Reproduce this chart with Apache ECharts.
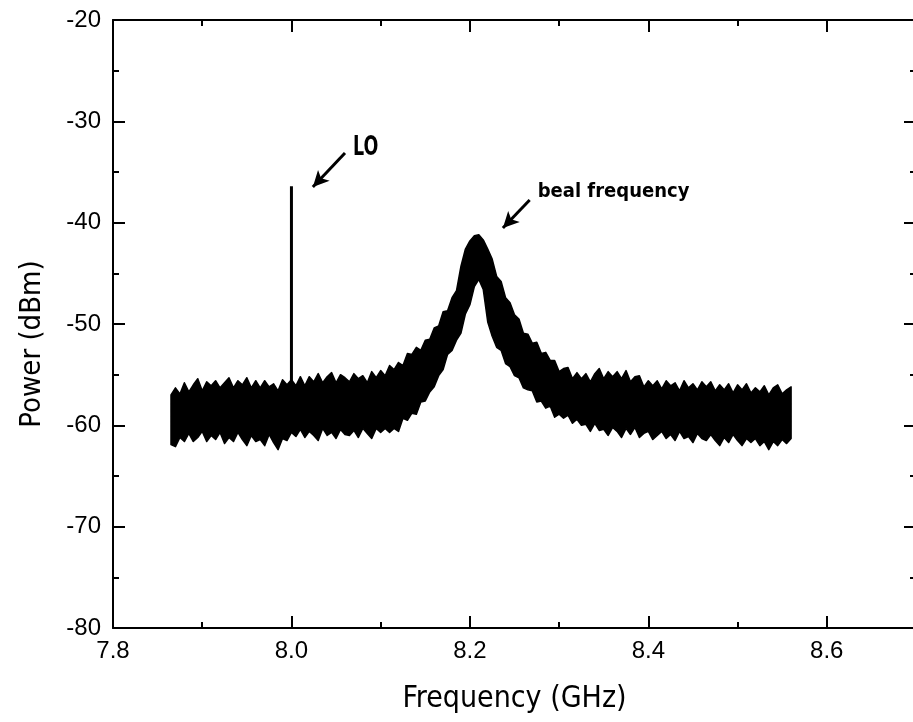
<!DOCTYPE html>
<html>
<head>
<meta charset="utf-8">
<script src="https://cdn.jsdelivr.net/npm/echarts@6/dist/echarts.min.js"></script>
<style>
html,body{margin:0;padding:0;background:#fff;}
#chart{width:913px;height:722px;}
</style>
</head>
<body>
<div id="chart"></div>
<script>
// Frequency samples (GHz)
const freq = [
7.865,7.870,7.875,7.880,7.885,7.890,7.895,7.900,7.905,7.910,
7.915,7.920,7.925,7.930,7.935,7.940,7.945,7.950,7.955,7.960,
7.965,7.970,7.975,7.980,7.985,7.990,7.995,8.000,8.005,8.010,
8.015,8.020,8.025,8.030,8.035,8.040,8.045,8.050,8.055,8.060,
8.065,8.070,8.075,8.080,8.085,8.090,8.095,8.100,8.105,8.110,
8.115,8.120,8.125,8.130,8.135,8.140,8.145,8.150,8.155,8.160,
8.165,8.170,8.175,8.180,8.185,8.190,8.195,8.200,8.205,8.210,
8.215,8.220,8.225,8.230,8.235,8.240,8.245,8.250,8.255,8.260,
8.265,8.270,8.275,8.280,8.285,8.290,8.295,8.300,8.305,8.310,
8.315,8.320,8.325,8.330,8.335,8.340,8.345,8.350,8.355,8.360,
8.365,8.370,8.375,8.380,8.385,8.390,8.395,8.400,8.405,8.410,
8.415,8.420,8.425,8.430,8.435,8.440,8.445,8.450,8.455,8.460,
8.465,8.470,8.475,8.480,8.485,8.490,8.495,8.500,8.505,8.510,
8.515,8.520,8.525,8.530,8.535,8.540,8.545,8.550,8.555,8.560
];
// Upper envelope of the noisy trace (dBm)
const upper = [
-57.0,-56.3,-56.9,-55.8,-56.7,-56.0,-55.4,-56.6,-55.7,-56.1,
-55.6,-56.3,-55.8,-55.3,-56.3,-55.6,-56.0,-55.3,-56.3,-55.6,
-56.3,-55.6,-56.2,-55.9,-56.6,-55.5,-56.0,-55.5,-56.1,-55.2,
-56.1,-55.2,-55.7,-54.9,-55.8,-55.2,-54.8,-55.8,-55.0,-55.3,
-55.7,-54.9,-55.4,-55.1,-55.8,-54.7,-55.3,-54.6,-55.1,-54.1,
-54.5,-53.8,-54.1,-52.9,-53.0,-52.3,-52.6,-51.6,-51.5,-50.4,
-50.2,-48.8,-48.7,-47.4,-46.7,-44.3,-42.6,-41.8,-41.3,-41.2,
-41.7,-42.6,-43.6,-45.3,-45.8,-47.4,-47.9,-49.1,-49.5,-50.9,
-51.0,-51.9,-51.8,-52.9,-52.8,-53.6,-53.6,-54.7,-54.4,-54.3,
-55.4,-54.8,-55.4,-54.9,-55.7,-54.9,-54.4,-55.4,-54.7,-55.2,
-54.7,-55.4,-54.6,-55.7,-55.2,-55.1,-56.2,-55.6,-56.1,-55.6,
-56.4,-55.6,-56.1,-55.8,-56.6,-55.6,-56.3,-55.9,-56.5,-55.7,
-56.2,-55.7,-56.6,-56.0,-56.5,-55.9,-56.8,-56.0,-56.5,-55.9,
-56.8,-56.3,-56.7,-56.1,-57.0,-56.3,-56.0,-56.9,-56.5,-56.2
];
// Lower envelope of the noisy trace (dBm)
const lower = [
-61.9,-62.1,-61.2,-61.6,-60.8,-61.6,-61.2,-60.6,-61.6,-61.0,
-61.4,-60.7,-61.8,-61.2,-61.6,-60.7,-61.4,-62.0,-61.0,-61.6,
-61.4,-62.0,-60.9,-61.7,-62.4,-61.3,-61.5,-60.7,-61.1,-60.4,
-61.2,-60.6,-61.0,-61.5,-60.3,-61.0,-60.7,-61.3,-60.4,-60.9,
-61.0,-60.5,-61.2,-60.3,-60.8,-61.3,-60.3,-60.7,-60.3,-60.7,
-60.3,-60.6,-59.3,-59.5,-58.8,-58.9,-57.7,-57.6,-56.7,-56.2,
-55.1,-54.5,-53.0,-52.6,-51.6,-50.9,-49.0,-48.1,-46.3,-45.6,
-46.6,-49.8,-51.2,-52.3,-52.6,-53.9,-54.2,-55.1,-55.3,-56.3,
-56.5,-56.6,-57.7,-57.6,-58.3,-58.1,-59.2,-58.9,-59.3,-59.0,
-59.8,-59.4,-60.0,-59.9,-60.6,-59.8,-60.5,-60.4,-61.0,-60.2,
-60.6,-61.2,-60.3,-60.9,-60.2,-61.2,-60.8,-60.6,-61.4,-61.0,
-60.6,-61.3,-60.9,-61.5,-60.6,-61.3,-61.1,-61.7,-60.8,-61.3,
-61.5,-60.9,-61.5,-62.0,-61.2,-61.7,-60.9,-61.5,-62.0,-61.3,
-61.7,-61.3,-62.0,-61.6,-62.4,-61.6,-62.0,-61.4,-61.8,-61.3
];
// LO spike
const loFreq = 8.0;
const loBase = -59.5;
const loPeak = -36.4;
// Axis settings
const xMin = 7.8, xMax = 8.7, xStep = 0.2;
const yMin = -80, yMax = -20, yStep = 10;
// Annotations [x, y] in data units
const loLabelPos = [8.069, -32.6];
const beatLabelPos = [8.276, -37.0];
const loArrow = [[8.060, -33.13], [8.024, -36.48]];
const beatArrow = [[8.267, -37.77], [8.237, -40.53]];

const chart = echarts.init(document.getElementById('chart'), null, {renderer: 'canvas'});
const axisLine = {show: true, onZero: false, lineStyle: {color: '#000', width: 2}};
const tickStyle = {show: true, inside: true, length: 12, lineStyle: {color: '#000', width: 2}};
const minorStyle = {show: true, splitNumber: 2, length: 6, lineStyle: {color: '#000', width: 2}};
const titleFont = 'DejaVu Sans Condensed';

function renderBand(params, api) {
  const pts = [];
  for (let i = 0; i < freq.length; i++) pts.push(api.coord([freq[i], upper[i]]));
  for (let i = freq.length - 1; i >= 0; i--) pts.push(api.coord([freq[i], lower[i]]));
  return {
    type: 'polygon',
    shape: {points: pts},
    style: {fill: '#000', stroke: '#000', lineWidth: 1.5, lineJoin: 'round'}
  };
}

const option = {
  backgroundColor: '#fff',
  animation: false,
  grid: {left: 113, top: 20, width: 803, height: 608, containLabel: false, outerBoundsMode: 'none'},
  xAxis: [{
    type: 'value', min: xMin, max: xMax, interval: xStep, position: 'bottom',
    axisLine: axisLine, axisTick: tickStyle, minorTick: minorStyle,
    splitLine: {show: false}, minorSplitLine: {show: false},
    axisLabel: {margin: 11, color: '#000', fontSize: 24, fontFamily: 'Liberation Sans',
      formatter: v => (v > xMax - 0.05 ? '' : v.toFixed(1))},
    name: 'Frequency (GHz)', nameLocation: 'middle', nameGap: 56,
    nameTextStyle: {color: '#000', fontSize: 30, fontFamily: titleFont}
  }, {
    type: 'value', min: xMin, max: xMax, interval: xStep, position: 'top',
    axisLine: axisLine, axisTick: tickStyle, minorTick: minorStyle,
    splitLine: {show: false}, axisLabel: {show: false}
  }],
  yAxis: [{
    type: 'value', min: yMin, max: yMax, interval: yStep, position: 'left',
    axisLine: axisLine, axisTick: tickStyle, minorTick: minorStyle,
    splitLine: {show: false}, minorSplitLine: {show: false},
    axisLabel: {margin: 12, color: '#000', fontSize: 24, fontFamily: 'Liberation Sans'},
    name: 'Power (dBm)', nameLocation: 'middle', nameGap: 66,
    nameTextStyle: {color: '#000', fontSize: 29, fontFamily: titleFont, padding: [0, 40, 0, 0]}
  }, {
    type: 'value', min: yMin, max: yMax, interval: yStep, position: 'right',
    axisLine: axisLine, axisTick: tickStyle, minorTick: minorStyle,
    splitLine: {show: false}, axisLabel: {show: false}
  }],
  series: [{
    type: 'custom', name: 'trace', silent: true,
    data: [[freq[0], upper[0]]],
    renderItem: renderBand
  }, {
    type: 'line', name: 'LO', symbol: 'none', silent: true,
    data: [[loFreq, loBase], [loFreq, loPeak]],
    lineStyle: {color: '#000', width: 3},
    markLine: {
      silent: true, symbol: ['none', 'arrow'], symbolSize: [12, 16],
      label: {show: false},
      lineStyle: {color: '#000', width: 3, type: 'solid'},
      emphasis: {disabled: true},
      data: [
        [{coord: loArrow[0]}, {coord: loArrow[1]}],
        [{coord: beatArrow[0]}, {coord: beatArrow[1]}]
      ]
    }
  }]
};
chart.setOption(option);

const pLO = chart.convertToPixel({gridIndex: 0}, loLabelPos);
const pBeat = chart.convertToPixel({gridIndex: 0}, beatLabelPos);
chart.setOption({
  graphic: [{
    type: 'text', x: pLO[0], y: pLO[1], scaleX: 0.72,
    style: {text: 'LO', fill: '#000', font: 'bold 27px "DejaVu Sans Condensed"', textVerticalAlign: 'middle', textAlign: 'left'}
  }, {
    type: 'text', x: pBeat[0], y: pBeat[1],
    style: {text: 'beal frequency', fill: '#000', font: 'bold 20px "DejaVu Sans Condensed"', textVerticalAlign: 'middle', textAlign: 'left'}
  }]
});
</script>
</body>
</html>
